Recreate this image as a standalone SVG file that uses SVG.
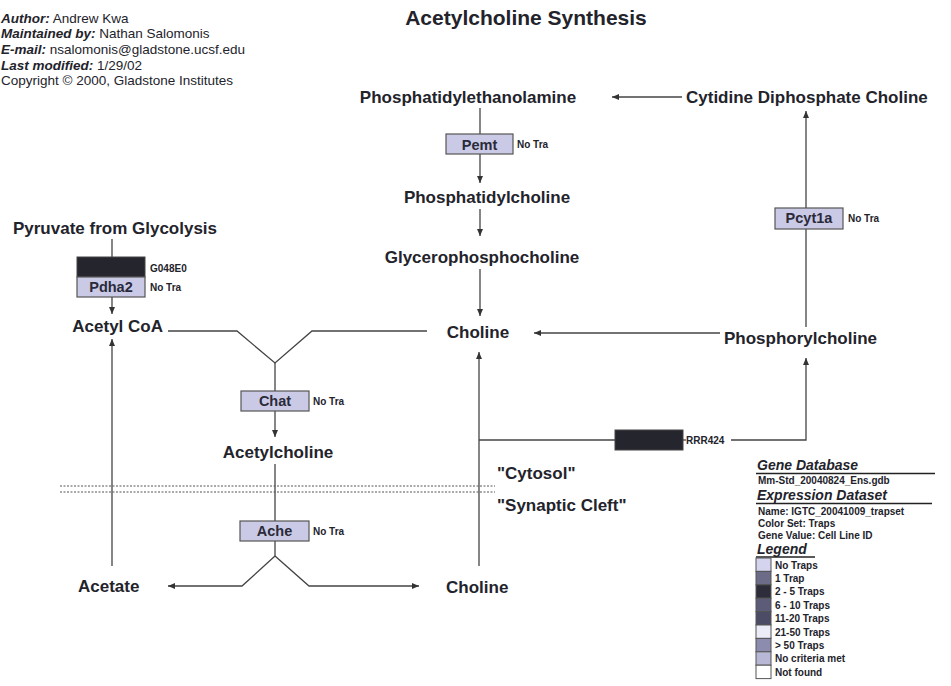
<svg xmlns="http://www.w3.org/2000/svg" width="951" height="686" viewBox="0 0 951 686">
<style>
text{font-family:"Liberation Sans",Arial,sans-serif;fill:#23232b}
.m{font-weight:bold;font-size:17px}
.g{font-weight:bold;font-size:14.5px;text-anchor:middle;fill:#2a2a3a}
.s{font-weight:bold;font-size:10px}
.box{fill:#cacae6;stroke:#555;stroke-width:1.2}
.dark{fill:#25252e;stroke:#444;stroke-width:1}
.ln{stroke:#444;stroke-width:1.3;fill:none}
.dash{stroke:#555;stroke-width:1;stroke-dasharray:2,1.5;fill:none}
.lg{font-size:10px;font-weight:bold}
.hd{font-size:14px;font-weight:bold;font-style:italic}
.ul{stroke:#222;stroke-width:1.3}
.a{font-size:13.5px}
.b{font-weight:bold;font-style:italic}
.lb{stroke:#555;stroke-width:1}
</style>
<defs>
<marker id="ah" markerWidth="8" markerHeight="8" refX="7" refY="4" orient="auto" markerUnits="userSpaceOnUse"><path d="M0,1 L7,4 L0,7 Z" fill="#333"/></marker>
</defs>
<rect width="951" height="686" fill="#fff"/>

<g id="info">
<text class="a" x="1" y="23"><tspan class="b">Author:</tspan> Andrew Kwa</text>
<text class="a" x="1" y="38"><tspan class="b">Maintained by:</tspan> Nathan Salomonis</text>
<text class="a" x="1" y="54"><tspan class="b">E-mail:</tspan> nsalomonis@gladstone.ucsf.edu</text>
<text class="a" x="1" y="70"><tspan class="b">Last modified:</tspan> 1/29/02</text>
<text class="a" x="1" y="85">Copyright © 2000, Gladstone Institutes</text>
</g>
<g id="title"><text x="526" y="25" font-size="21" font-weight="bold" text-anchor="middle">Acetylcholine Synthesis</text></g>

<g id="connectors">
<path class="ln" d="M480,108 V134"/>
<path class="ln" d="M480,154 V183" marker-end="url(#ah)"/>
<path class="ln" d="M480,209 V236" marker-end="url(#ah)"/>
<path class="ln" d="M480,269 V316" marker-end="url(#ah)"/>
<path class="ln" d="M682,97 H612" marker-end="url(#ah)"/>
<path class="ln" d="M720,333 H534" marker-end="url(#ah)"/>
<path class="ln" d="M806,327 V229"/>
<path class="ln" d="M806,208 V111" marker-end="url(#ah)"/>
<path class="ln" d="M479,566 V352" marker-end="url(#ah)"/>
<path class="ln" d="M479,440 H615"/>
<path class="ln" d="M683,440 H686"/>
<path class="ln" d="M731,440 H806 V358" marker-end="url(#ah)"/>
<path class="ln" d="M112,239 V257"/>
<path class="ln" d="M112,297 V314" marker-end="url(#ah)"/>
<path class="ln" d="M112,566 V339" marker-end="url(#ah)"/>
<path class="ln" d="M168,331 H237 L275,363 L312,331 H427"/>
<path class="ln" d="M275,363 V391"/>
<path class="ln" d="M275,411 V437" marker-end="url(#ah)"/>
<path class="ln" d="M275,464 V521"/>
<path class="ln" d="M275,541 V556"/>
<path class="ln" d="M275,556 L242,586 H168" marker-end="url(#ah)"/>
<path class="ln" d="M275,556 L309,586 H419" marker-end="url(#ah)"/>
<path class="dash" d="M60,486 H495 M60,492 H495"/>
</g>

<g id="PE"><text class="m" x="468" y="103" font-size="16" text-anchor="middle">Phosphatidylethanolamine</text></g>
<g id="CDPCholine"><text class="m" x="686" y="103" font-size="18">Cytidine Diphosphate Choline</text></g>
<g id="PC"><text class="m" x="487" y="203" font-size="18" text-anchor="middle">Phosphatidylcholine</text></g>
<g id="GPC"><text class="m" x="482" y="263" font-size="19" text-anchor="middle">Glycerophosphocholine</text></g>
<g id="CholineTop"><text class="m" x="478" y="338" font-size="17.5" text-anchor="middle">Choline</text></g>
<g id="Phosphorylcholine"><text class="m" x="724" y="344" font-size="19">Phosphorylcholine</text></g>
<g id="Pyruvate"><text class="m" x="115" y="234" font-size="18.5" text-anchor="middle">Pyruvate from Glycolysis</text></g>
<g id="AcetylCoA"><text class="m" x="163" y="332" text-anchor="end">Acetyl CoA</text></g>
<g id="Acetylcholine"><text class="m" x="278" y="458" text-anchor="middle">Acetylcholine</text></g>
<g id="Acetate"><text class="m" x="78" y="592">Acetate</text></g>
<g id="CholineBottom"><text class="m" x="446" y="593" font-size="17.5">Choline</text></g>
<g id="Cytosol"><text class="m" x="497" y="479" font-size="16">"Cytosol"</text></g>
<g id="SynapticCleft"><text class="m" x="497" y="511" font-size="16">"Synaptic Cleft"</text></g>

<g id="Pemt"><rect class="box" x="446" y="134" width="67" height="20"/><text class="g" x="479.5" y="149.5">Pemt</text><text class="s" x="517" y="148">No Tra</text></g>
<g id="Pdha2"><rect class="dark" x="77" y="257" width="68" height="20"/><rect class="box" x="77" y="277" width="68" height="20"/><text class="g" x="111" y="292">Pdha2</text><text class="s" x="150" y="272">G048E0</text><text class="s" x="150" y="291">No Tra</text></g>
<g id="Chat"><rect class="box" x="241" y="391" width="68" height="20"/><text class="g" x="275" y="406">Chat</text><text class="s" x="313" y="405">No Tra</text></g>
<g id="Ache"><rect class="box" x="240" y="521" width="69" height="20"/><text class="g" x="274.5" y="536">Ache</text><text class="s" x="313" y="535">No Tra</text></g>
<g id="Pcyt1a"><rect class="box" x="775" y="208" width="68" height="21"/><text class="g" x="809" y="223">Pcyt1a</text><text class="s" x="848" y="222">No Tra</text></g>
<g id="RRR424"><rect class="dark" x="615" y="430" width="68" height="20"/><text class="s" x="686" y="444" font-size="11">RRR424</text></g>

<g id="legend">
<text class="hd" x="757" y="470">Gene Database</text><path class="ul" d="M756,473.5 H935"/>
<text class="lg" x="758" y="484">Mm-Std_20040824_Ens.gdb</text>
<text class="hd" x="757" y="500">Expression Dataset</text><path class="ul" d="M756,503.5 H932"/>
<text class="lg" x="758" y="515">Name: IGTC_20041009_trapset</text>
<text class="lg" x="758" y="527">Color Set: Traps</text>
<text class="lg" x="758" y="539">Gene Value: Cell Line ID</text>
<text class="hd" x="757" y="554">Legend</text><path class="ul" d="M756,557 H815"/>
<rect class="lb" x="756" y="558" width="15" height="13.4" fill="#d4d4ee"/><text class="lg" x="775" y="568.5">No Traps</text>
<rect class="lb" x="756" y="571.4" width="15" height="13.4" fill="#6c6c88"/><text class="lg" x="775" y="581.9">1 Trap</text>
<rect class="lb" x="756" y="584.8" width="15" height="13.4" fill="#2c2c3a"/><text class="lg" x="775" y="595.3">2 - 5 Traps</text>
<rect class="lb" x="756" y="598.2" width="15" height="13.4" fill="#5c5c78"/><text class="lg" x="775" y="608.7">6 - 10 Traps</text>
<rect class="lb" x="756" y="611.6" width="15" height="13.4" fill="#4c4c66"/><text class="lg" x="775" y="622.1">11-20 Traps</text>
<rect class="lb" x="756" y="625" width="15" height="13.4" fill="#ececf8"/><text class="lg" x="775" y="635.5">21-50 Traps</text>
<rect class="lb" x="756" y="638.4" width="15" height="13.4" fill="#8c8cae"/><text class="lg" x="775" y="648.9">&gt; 50 Traps</text>
<rect class="lb" x="756" y="651.8" width="15" height="13.4" fill="#b8b8d6"/><text class="lg" x="775" y="662.3">No criteria met</text>
<rect class="lb" x="756" y="665.2" width="15" height="13.4" fill="#ffffff"/><text class="lg" x="775" y="675.7">Not found</text>
</g>
</svg>
